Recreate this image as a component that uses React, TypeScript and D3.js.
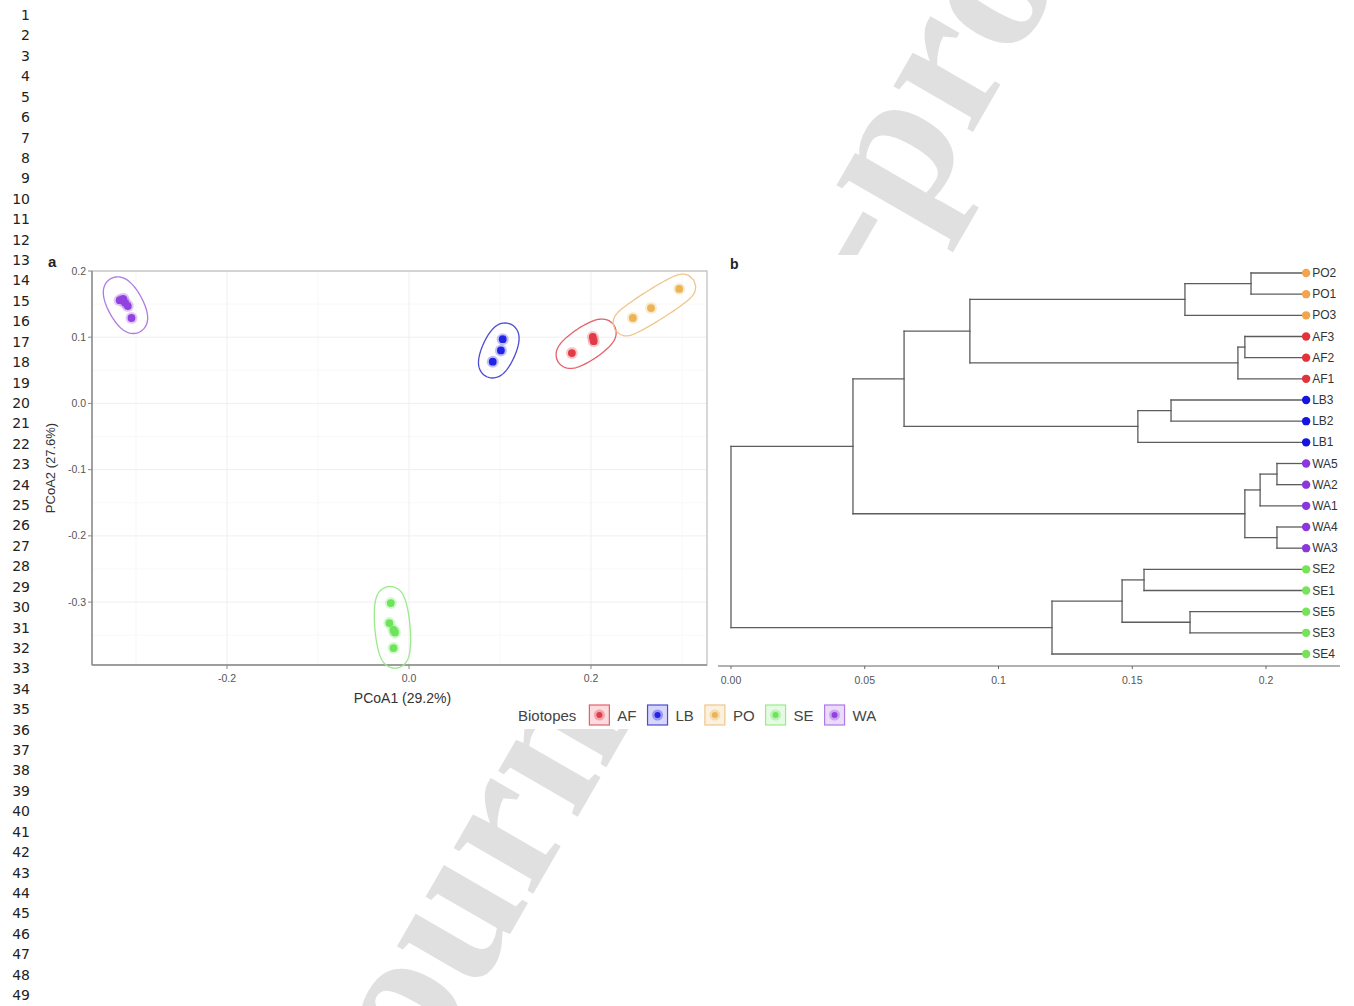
import React, { useMemo } from "react";
import * as d3 from "d3";

// ---------- data ----------
const lineNumbers = d3.range(1, 50);
const watermarkText = "Journal Pre-proof";

const biotopes = ["AF", "LB", "PO", "SE", "WA"];
const biotopeColors = ["#e23b47", "#2323e6", "#ebb455", "#6ee35c", "#9242e0"];
const ellipseColors = ["#e4606a", "#4b4bd6", "#efc68a", "#9aea8c", "#ae7ae6"];
const tipColors = ["#e2333b", "#1515e0", "#f2a54c", "#78e35a", "#8a38dc"];

const sampleNames = [
  "AF1", "AF2", "AF3",
  "LB1", "LB2", "LB3",
  "PO1", "PO2", "PO3",
  "SE1", "SE2", "SE3", "SE4", "SE5",
  "WA1", "WA2", "WA3", "WA4", "WA5",
];
const sampleGroups = [
  "AF", "AF", "AF",
  "LB", "LB", "LB",
  "PO", "PO", "PO",
  "SE", "SE", "SE", "SE", "SE",
  "WA", "WA", "WA", "WA", "WA",
];
const pcoa1Values = [
  0.179, 0.202, 0.203,
  0.092, 0.101, 0.103,
  0.246, 0.266, 0.297,
  -0.020, -0.0216, -0.017, -0.0154, -0.017,
  -0.318, -0.314, -0.312, -0.309, -0.305,
];
const pcoa2Values = [
  0.076, 0.1005, 0.094,
  0.063, 0.080, 0.097,
  0.129, 0.144, 0.173,
  -0.3015, -0.3317, -0.342, -0.346, -0.3695,
  0.156, 0.158, 0.152, 0.147, 0.129,
];

const pcoaXTicks = [-0.2, 0, 0.2];
const pcoaXTickLabels = ["-0.2", "0.0", "0.2"];
const pcoaYTicks = [0.2, 0.1, 0, -0.1, -0.2, -0.3];
const pcoaYTickLabels = ["0.2", "0.1", "0.0", "-0.1", "-0.2", "-0.3"];
const pcoaXTitle = "PCoA1 (29.2%)";
const pcoaYTitle = "PCoA2 (27.6%)";
const legendTitle = "Biotopes";

// dendrogram: node id, parent id, distance from root
const treeNodeIds = [
  "root", "n1", "n2", "n3",
  "nPO", "nPO12", "PO2", "PO1", "PO3",
  "nAF", "nAF32", "AF3", "AF2", "AF1",
  "nLB", "nLB32", "LB3", "LB2", "LB1",
  "nWA", "nWA521", "nWA52", "WA5", "WA2", "WA1", "nWA43", "WA4", "WA3",
  "nSE", "nSE1235", "nSE21", "SE2", "SE1", "nSE53", "SE5", "SE3", "SE4",
];
const treeNodeParents = [
  "", "root", "n1", "n2",
  "n3", "nPO", "nPO12", "nPO12", "nPO",
  "n3", "nAF", "nAF32", "nAF32", "nAF",
  "n2", "nLB", "nLB32", "nLB32", "nLB",
  "n1", "nWA", "nWA521", "nWA52", "nWA52", "nWA521", "nWA", "nWA43", "nWA43",
  "root", "nSE", "nSE1235", "nSE21", "nSE21", "nSE1235", "nSE53", "nSE53", "nSE",
];
const treeNodeDists = [
  0, 0.0456, 0.0647, 0.0893,
  0.1697, 0.1944, 0.215, 0.215, 0.215,
  0.1895, 0.1921, 0.215, 0.215, 0.215,
  0.1521, 0.1645, 0.215, 0.215, 0.215,
  0.1921, 0.1978, 0.2041, 0.215, 0.215, 0.215, 0.2041, 0.215, 0.215,
  0.12, 0.1462, 0.1544, 0.215, 0.215, 0.1716, 0.215, 0.215, 0.215,
];
const treeTicks = [0, 0.05, 0.1, 0.15, 0.2];
const treeTickLabels = ["0.00", "0.05", "0.1", "0.15", "0.2"];

// ---------- helpers ----------
const SANS = "'Liberation Sans', Arial, sans-serif";

function markEllipsePath(pts: [number, number][], pad: number) {
  const cx = d3.mean(pts, (p) => p[0])!;
  const cy = d3.mean(pts, (p) => p[1])!;
  let sxx = 0, syy = 0, sxy = 0;
  pts.forEach(([x, y]) => {
    sxx += (x - cx) * (x - cx);
    syy += (y - cy) * (y - cy);
    sxy += (x - cx) * (y - cy);
  });
  const th = 0.5 * Math.atan2(2 * sxy, sxx - syy);
  const c = Math.cos(th), s = Math.sin(th);
  let maxA = 0, maxB = 0;
  pts.forEach(([x, y]) => {
    const u = (x - cx) * c + (y - cy) * s;
    const v = -(x - cx) * s + (y - cy) * c;
    maxA = Math.max(maxA, Math.abs(u));
    maxB = Math.max(maxB, Math.abs(v));
  });
  const a = maxA * 1.05 + 3;
  const b = maxB * 1.15 + 2;
  const out: [number, number][] = d3.range(0, 120).map((i) => {
    const t = (i / 120) * Math.PI * 2;
    const ex = a * Math.cos(t), ey = b * Math.sin(t);
    let nx = b * Math.cos(t), ny = a * Math.sin(t);
    const nl = Math.hypot(nx, ny) || 1;
    nx /= nl; ny /= nl;
    const ox = ex + pad * nx, oy = ey + pad * ny;
    return [cx + ox * c - oy * s, cy + ox * s + oy * c];
  });
  return d3.line().curve(d3.curveLinearClosed)(out) as string;
}

function measure(text: string, font: string) {
  const ctx = document.createElement("canvas").getContext("2d")!;
  ctx.font = font;
  return ctx.measureText(text).width;
}

export default function App() {
  const W = 1354, H = 1006;

  // ---------- panel a ----------
  const px = d3.scaleLinear().domain([-0.3484, 0.3275]).range([92, 707]);
  const py = d3.scaleLinear().domain([0.2, -0.395]).range([271, 665]);
  const [pL, pR] = px.range();
  const [pT, pB] = py.range();

  const samples = sampleNames.map((n, i) => ({
    name: n,
    group: sampleGroups[i],
    x: px(pcoa1Values[i]),
    y: py(pcoa2Values[i]),
  }));

  const ellipses = biotopes.map((g, gi) => {
    const pts = samples.filter((s) => s.group === g).map((s) => [s.x, s.y] as [number, number]);
    return { g, gi, d: markEllipsePath(pts, 12.5) };
  });

  const xMinor = [-0.3, -0.1, 0.1, 0.3];
  const yMinor = [0.15, 0.05, -0.05, -0.15, -0.25, -0.35];

  // ---------- legend ----------
  const legendFont = `15px ${SANS}`;
  const legend = useMemo(() => {
    const titleX = 518;
    let x = titleX + measure(legendTitle, legendFont) + 13;
    return biotopes.map((b, i) => {
      const item = { b, i, boxX: x, textX: x + 28 };
      x = x + 28 + measure(b, legendFont) + 11;
      return item;
    });
  }, []);

  // ---------- panel b ----------
  const tx = d3.scaleLinear().domain([0, 0.2]).range([731, 1266]);
  const tree = useMemo(() => {
    const table = treeNodeIds.map((id, i) => ({ id, parent: treeNodeParents[i], dist: treeNodeDists[i] }));
    const root = d3
      .stratify<any>()
      .id((d) => d.id)
      .parentId((d) => (d.parent === "" ? null : d.parent))(table);
    const leaves = root.leaves();
    const ty = d3.scalePoint<string>().domain(leaves.map((l) => l.id!)).range([273, 654]);
    root.eachAfter((n: any) => {
      n.yPos = n.children ? d3.mean(n.children, (c: any) => c.yPos) : ty(n.id);
    });
    return { root, leaves };
  }, []);

  const treeLines: { x1: number; y1: number; x2: number; y2: number }[] = [];
  tree.root.each((n: any) => {
    if (n.parent) {
      treeLines.push({ x1: tx(n.parent.data.dist), y1: n.yPos, x2: tx(n.data.dist), y2: n.yPos });
    }
    if (n.children) {
      const ys = n.children.map((c: any) => c.yPos);
      treeLines.push({ x1: tx(n.data.dist), y1: d3.min(ys), x2: tx(n.data.dist), y2: d3.max(ys) });
    }
  });

  return (
    <div style={{ position: "absolute", left: 0, top: 0, width: W, height: H, overflow: "hidden", background: "#fff" }}>
      <svg width={W} height={H} style={{ display: "block" }}>
        <rect x={0} y={0} width={W} height={H} fill="#fff" />
        {/* watermark */}
        <text
          transform="translate(375,1168) rotate(-60)"
          fontFamily="'Liberation Serif', 'Times New Roman', serif"
          fontWeight="bold"
          fontSize={200}
          fill="#e0e0e0"
        >
          {watermarkText}
        </text>
        {/* figure background covering watermark */}
        <rect x={36} y={255} width={1312} height={474} fill="#fff" />

        {/* line numbers */}
        {lineNumbers.map((n, i) => (
          <text key={n} x={30} y={20 + i * 20.417} textAnchor="end" fontFamily="'DejaVu Sans', sans-serif" fontSize={14} fill="#222">
            {n}
          </text>
        ))}

        {/* ---------- panel a ---------- */}
        <text x={48} y={267} fontFamily={SANS} fontWeight="bold" fontSize={15} fill="#222">a</text>
        <g>
          {xMinor.map((v) => (
            <line key={"xm" + v} x1={px(v)} x2={px(v)} y1={pT} y2={pB} stroke="#f6f6f6" strokeWidth={0.8} />
          ))}
          {yMinor.map((v) => (
            <line key={"ym" + v} x1={pL} x2={pR} y1={py(v)} y2={py(v)} stroke="#f6f6f6" strokeWidth={0.8} />
          ))}
          {pcoaXTicks.map((v) => (
            <line key={"xg" + v} x1={px(v)} x2={px(v)} y1={pT} y2={pB} stroke="#efefef" strokeWidth={1} />
          ))}
          {pcoaYTicks.map((v) => (
            <line key={"yg" + v} x1={pL} x2={pR} y1={py(v)} y2={py(v)} stroke="#efefef" strokeWidth={1} />
          ))}
          <rect x={pL} y={pT} width={pR - pL} height={pB - pT} fill="none" stroke="#bdbdbd" strokeWidth={1.2} />
          <line x1={pL} x2={pL} y1={pT} y2={pB} stroke="#8a8a8a" strokeWidth={1.4} />
          <line x1={pL} x2={pR} y1={pB} y2={pB} stroke="#8a8a8a" strokeWidth={1.4} />
          {pcoaXTicks.map((v, i) => (
            <g key={"xt" + v}>
              <line x1={px(v)} x2={px(v)} y1={pB} y2={pB + 4} stroke="#8a8a8a" />
              <text x={px(v)} y={pB + 17} textAnchor="middle" fontFamily={SANS} fontSize={10.5} fill="#555">
                {pcoaXTickLabels[i]}
              </text>
            </g>
          ))}
          {pcoaYTicks.map((v, i) => (
            <g key={"yt" + v}>
              <line x1={pL - 4} x2={pL} y1={py(v)} y2={py(v)} stroke="#8a8a8a" />
              <text x={pL - 6} y={py(v) + 3.5} textAnchor="end" fontFamily={SANS} fontSize={10.5} fill="#555">
                {pcoaYTickLabels[i]}
              </text>
            </g>
          ))}
          <text x={(pL + pR) / 2 + 3} y={703} textAnchor="middle" fontFamily={SANS} fontSize={14} fill="#333">
            {pcoaXTitle}
          </text>
          <text transform={`translate(55,${(pT + pB) / 2}) rotate(-90)`} textAnchor="middle" fontFamily={SANS} fontSize={13} fill="#333">
            {pcoaYTitle}
          </text>

          {ellipses.map((e) => (
            <path key={e.g} d={e.d} fill="none" stroke={ellipseColors[e.gi]} strokeWidth={1.3} />
          ))}
          {samples.map((s) => {
            const gi = biotopes.indexOf(s.group);
            return (
              <g key={s.name}>
                <circle cx={s.x} cy={s.y} r={6} fill={biotopeColors[gi]} opacity={0.28} />
                <circle cx={s.x} cy={s.y} r={3.9} fill={biotopeColors[gi]} />
              </g>
            );
          })}
        </g>

        {/* legend */}
        <g>
          <text x={518} y={720.5} fontFamily={SANS} fontSize={15} fill="#444">{legendTitle}</text>
          {legend.map((l) => (
            <g key={l.b}>
              <rect x={l.boxX} y={705} width={20} height={20} fill={biotopeColors[l.i]} fillOpacity={0.18} stroke={ellipseColors[l.i]} strokeWidth={1.2} />
              <circle cx={l.boxX + 10} cy={715} r={5.5} fill={biotopeColors[l.i]} opacity={0.35} />
              <circle cx={l.boxX + 10} cy={715} r={3} fill={biotopeColors[l.i]} />
              <text x={l.textX} y={720.5} fontFamily={SANS} fontSize={15} fill="#444">{l.b}</text>
            </g>
          ))}
        </g>

        {/* ---------- panel b ---------- */}
        <text x={730} y={269} fontFamily={SANS} fontWeight="bold" fontSize={14} fill="#222">b</text>
        <g>
          {treeLines.map((l, i) => (
            <line key={i} x1={l.x1} y1={l.y1} x2={l.x2} y2={l.y2} stroke="#5c5c5c" strokeWidth={1.3} strokeLinecap="square" />
          ))}
          {tree.leaves.map((l: any) => {
            const gi = biotopes.indexOf(l.id.slice(0, 2));
            return (
              <g key={l.id}>
                <circle cx={tx(l.data.dist)} cy={l.yPos} r={4.2} fill={tipColors[gi]} />
                <text x={tx(l.data.dist) + 6} y={l.yPos + 4} fontFamily={SANS} fontSize={12} fill="#333">
                  {l.id}
                </text>
              </g>
            );
          })}
          <line x1={718} x2={1340} y1={666} y2={666} stroke="#666" strokeWidth={1.2} />
          {treeTicks.map((v, i) => (
            <g key={"tt" + v}>
              <line x1={tx(v)} x2={tx(v)} y1={666} y2={669} stroke="#666" />
              <text x={tx(v)} y={684} textAnchor="middle" fontFamily={SANS} fontSize={10.5} fill="#555">
                {treeTickLabels[i]}
              </text>
            </g>
          ))}
        </g>
      </svg>
    </div>
  );
}
